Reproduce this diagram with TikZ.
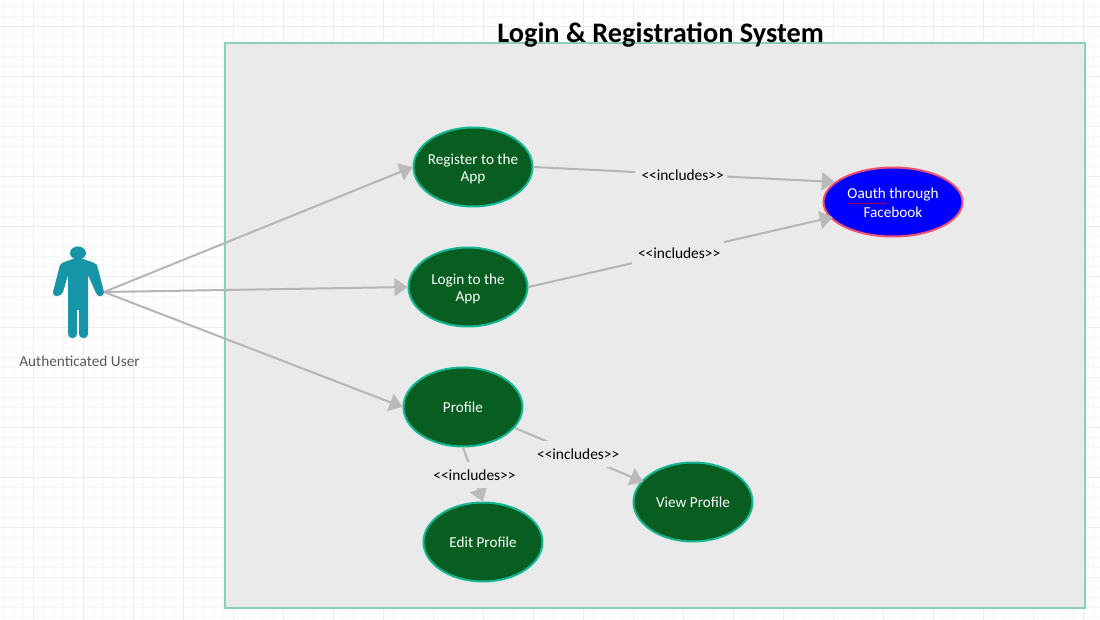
\documentclass[tikz,border=0pt]{standalone}
\usepackage{fontspec}
\setmainfont{Carlito}
\usetikzlibrary{shapes.geometric,arrows.meta,decorations.pathmorphing}
\definecolor{gridminor}{HTML}{F6F6F6}
\definecolor{gridmajor}{HTML}{ECECEC}
\definecolor{boxline}{HTML}{8ACFBB}
\definecolor{boxfill}{HTML}{EAEAEA}
\definecolor{usefill}{HTML}{075E20}
\definecolor{useline}{HTML}{15B896}
\definecolor{conn}{HTML}{B5B5B5}
\definecolor{connhead}{HTML}{BABABA}
\definecolor{actorc}{HTML}{1695A8}
\definecolor{oauthline}{HTML}{F0506E}
\newcommand{\toppad}[1]{\rule{0pt}{#1pt}}
\newcommand{\inctext}{\hspace*{3pt}<{}<includes>{}>}
\tikzset{
  usecase/.style={ellipse,draw=useline,fill=usefill,line width=2pt,minimum width=119pt,minimum height=79pt,inner sep=-25pt,text=white,align=center,font=\fontsize{15.2}{17}\selectfont},
  oauthcase/.style={usecase,draw=oauthline,fill=blue,minimum width=139pt,minimum height=69pt,font=\fontsize{15.2}{19}\selectfont},
  link/.style={draw=conn,line width=2pt,-{Triangle[length=13pt,width=18pt,color=connhead,fill=connhead]}},
  inc/.style={fill=boxfill,inner sep=0pt,minimum width=92pt,minimum height=26pt,text=black,font=\fontsize{15.4}{17}\selectfont,text height=13pt,text depth=1pt},
}
\begin{document}
\begin{tikzpicture}[x=1pt,y=-1pt]
\useasboundingbox (0,0) rectangle (1100,620);
\fill[white] (0,0) rectangle (1100,620);
\foreach \i in {0,...,109}{\draw[gridminor,line width=1pt] ({3+10*\i},0) -- ({3+10*\i},620);}
\foreach \i in {0,...,61}{\draw[gridminor,line width=1pt] (0,{7+10*\i}) -- (1100,{7+10*\i});}
\foreach \i in {0,...,21}{\draw[gridmajor,line width=1pt] ({33+50*\i},0) -- ({33+50*\i},620);}
\foreach \i in {0,...,11}{\draw[gridmajor,line width=1pt] (0,{27+50*\i}) -- (1100,{27+50*\i});}
\draw[boxline,fill=boxfill,line width=2pt] (225,43) rectangle (1085,608);
\node (title) at (660.5,35) [font=\bfseries\fontsize{28.3}{32}\selectfont,text=black,inner sep=0pt] {Login \& Registration System};
% actor
\fill[actorc] (78,253) ellipse (8pt and 6.5pt);
\fill[actorc] (73,259) -- (83,259) .. controls (88,261) and (94,262) .. (97,265) -- (104,292)
  .. controls (104,297) and (98,298) .. (96,293) -- (88,275) -- (88,333)
  .. controls (88,340) and (79,340) .. (79,333) -- (79,310) -- (77,310) -- (77,333)
  .. controls (77,340) and (68,340) .. (68,333) -- (68,275) -- (63,292)
  .. controls (60,298) and (52,297) .. (53,292) -- (60,265) .. controls (62,262) and (68,261) .. (73,259) -- cycle;
\coordinate (actor) at (104,292);
\node (alabel) at (79.5,361) [text=black!65,font=\fontsize{15.3}{17}\selectfont,inner sep=0pt] {Authenticated User};
% use cases
\node[usecase] (register) at (473,167) {\toppad{14}Register to the\\App};
\node[usecase] (login) at (468,287) {\toppad{14}Login to the\\App};
\node[usecase] (profile) at (463,407) {Profile};
\node[usecase] (edit) at (483,542) {Edit Profile};
\node[usecase] (view) at (693,502) {View Profile};
\node[oauthcase] (oauth) at (893,202) {\toppad{12}Oauth through\\Facebook};
\draw[red!85!black,line width=.5pt,decorate,decoration={snake,amplitude=.5pt,segment length=3pt}] (848,203.5) -- (887,203.5);
% connectors
\draw[link] (actor) -- (register.west);
\draw[link] (actor) -- (login.west);
\draw[link] (actor) -- (profile.west);
\draw[link] (register.east) -- node[inc,pos=.49] (l1) {\inctext} (oauth.161);
\draw[link,shorten >=-3pt] (login.east) -- node[inc,pos=.495] (l2) {\inctext} (oauth.194);
\draw[link,shorten >=-2pt] (profile.-22) -- node[inc,pos=.49] (l3) {\inctext} (view.158);
\draw[link] (profile.south) -- node[inc,pos=.5] (l4) {\inctext} (edit.north);
\end{tikzpicture}
\end{document}
